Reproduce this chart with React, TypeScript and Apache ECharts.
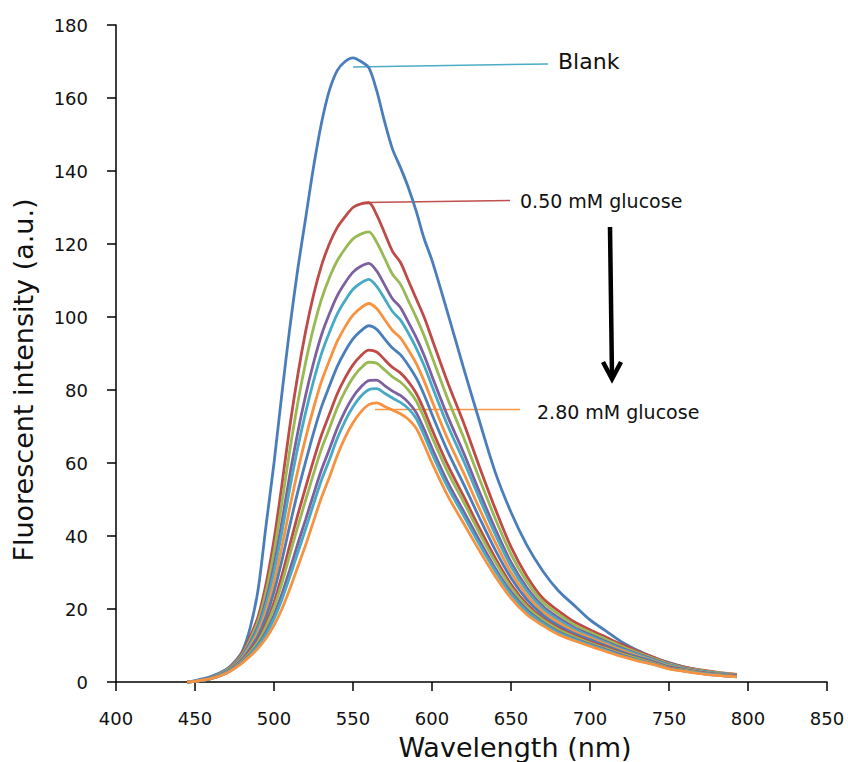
import React, { useEffect, useRef } from "react";
import * as echarts from "echarts";

// Wavelength (nm)
const wavelengths = [445,450,460,470,475,480,485,490,495,500,505,510,515,520,525,530,535,540,545,550,555,560,565,570,575,580,585,590,595,600,610,620,630,640,650,660,670,680,690,700,710,720,730,740,750,760,770,780,793];

const blank = [0,0.4,1.5,3.5,5.5,8.5,15,25.5,43,60,79,97,113,127,141,153,162,167.5,170,171,170,168.3,162,153.5,146,141,135.5,129,121.5,115.5,101,86,71.5,57.5,46.5,37.5,30.5,25,21,17,14,11,8.7,6.8,5.3,4.1,3.2,2.5,1.9];
const g1 = [0,0.2,1.1,3.3,5.2,8,12.5,18,27,39,54,70,84,96,106,114,120,124.5,127.5,130,131,131.3,128,123,118,115,110,105,100,94,82,71,59,47.5,37,29,23,19.5,16.5,14.3,12.3,10.3,8.5,6.8,5.2,4.1,3.3,2.7,2.1];
const g2 = [0,0.2,1.1,3.2,5.0,7.6,11.7,16.7,24.8,35.6,49.1,63.5,76.4,87.5,97,104.8,110.7,115.4,118.7,121.4,122.7,123.3,120.5,116.1,111.7,109,104.5,99.9,94.9,89.1,77.5,67,55.7,44.8,35,27.5,21.9,18.6,15.7,13.6,11.7,9.8,8.1,6.5,5.0,3.9,3.2,2.6,2.0];
const g3 = [0,0.2,1.0,3.0,4.8,7.2,10.9,15.4,22.5,32,43.8,56.7,68.3,78.5,87.4,95,100.8,105.8,109.4,112.3,113.9,114.7,112.6,108.8,105,102.6,98.6,94.4,89.5,83.8,72.7,62.8,52.1,42,32.8,25.9,20.8,17.6,14.9,13,11.1,9.3,7.7,6.2,4.7,3.7,3.0,2.4,1.9];
const g4 = [0,0.2,1.0,3.0,4.6,6.9,10.4,14.7,21.3,30.1,41.1,53.1,64.1,73.8,82.4,89.9,95.7,100.8,104.5,107.6,109.3,110.3,108.4,105,101.5,99.2,95.6,91.5,86.7,81.1,70.2,60.6,50.3,40.5,31.7,25,20.2,17,14.5,12.6,10.8,9,7.5,6.0,4.6,3.6,2.9,2.4,1.8];
const g5 = [0,0.2,1.0,2.9,4.5,6.6,9.8,13.7,19.5,27.3,37,47.8,57.8,66.8,75,82.3,88,93.3,97.3,100.5,102.5,103.7,102.3,99.3,96.3,94.3,91,87.3,82.5,77,66.5,57.3,47.5,38.3,30,23.8,19.3,16.3,13.9,12.1,10.4,8.7,7.2,5.8,4.4,3.5,2.8,2.3,1.8];
const g6 = [0,0.2,1.0,2.8,4.3,6.3,9.2,12.7,17.9,24.7,33.3,42.9,52,60.3,68.2,75.3,81,86.4,90.6,94,96.2,97.6,96.6,94,91.5,89.7,86.8,83.3,78.7,73.3,63.1,54.2,45,36.2,28.5,22.6,18.4,15.5,13.3,11.6,9.9,8.3,6.9,5.6,4.2,3.4,2.7,2.2,1.7];
const g7 = [0,0.2,0.95,2.6,4.1,6.0,8.6,11.6,16.1,21.8,29.2,37.5,45.7,53.3,60.7,67.6,73.3,78.9,83.3,86.9,89.4,90.9,90.4,88.3,86.2,84.7,82.3,79.1,74.5,69.2,59.4,50.9,42.2,34,26.8,21.3,17.5,14.8,12.7,11,9.5,7.9,6.5,5.3,4.0,3.2,2.6,2.0,1.6];
const g8 = [0,0.2,0.95,2.6,4.0,5.8,8.2,11.1,15.2,20.4,27.1,34.8,42.5,49.8,57,63.8,69.4,75.1,79.7,83.4,86,87.6,87.3,85.5,83.6,82.2,80,77,72.4,67.1,57.5,49.3,40.8,32.9,25.9,20.7,17.1,14.4,12.4,10.7,9.2,7.7,6.4,5.2,3.9,3.2,2.5,2.0,1.5];
const g9 = [0,0.2,0.9,2.5,3.9,5.5,7.7,10.3,13.8,18.3,24.1,30.8,37.8,44.5,51.4,58.1,63.7,69.5,74.3,78.1,80.8,82.6,82.7,81.2,79.7,78.5,76.6,73.8,69.2,64.1,54.7,46.8,38.8,31.2,24.7,19.8,16.4,13.8,11.9,10.3,8.9,7.4,6.1,5.0,3.8,3.0,2.4,1.9,1.5];
const g10 = [0,0.2,0.9,2.5,3.8,5.4,7.5,10.0,13.1,17.3,22.6,28.8,35.4,41.9,48.7,55.3,60.8,66.7,71.5,75.4,78.3,80.1,80.4,79.1,77.8,76.6,74.9,72.2,67.6,62.6,53.3,45.6,37.7,30.4,24.1,19.3,16.1,13.5,11.7,10.1,8.7,7.2,6.0,4.9,3.7,3.0,2.4,1.9,1.4];
const g11 = [0,0.2,0.9,2.4,3.7,5.2,7.1,9.3,12,15.5,20,25.5,31.5,37.5,44,50.5,56,62,67,71,74,76,76.5,75.5,74.5,73.5,72,69.5,65,60,51,43.5,36,29,23,18.5,15.5,13,11.3,9.8,8.4,7,5.8,4.8,3.6,2.9,2.3,1.8,1.4];

const seriesNames = ["Blank","0.50 mM glucose","Glucose 2","Glucose 3","Glucose 4","Glucose 5","Glucose 6","Glucose 7","Glucose 8","Glucose 9","Glucose 10","2.80 mM glucose"];
const seriesValues = [blank, g1, g2, g3, g4, g5, g6, g7, g8, g9, g10, g11];

const xTicks = { min: 400, max: 850, interval: 50 };
const yTicks = { min: 0, max: 180, interval: 20 };

const palette = ["#4A7EBB","#BE4B48","#98B954","#7D60A0","#46AAC5","#F69240","#4A7EBB","#BE4B48","#98B954","#7D60A0","#46AAC5","#F69240"];

const FONT = "DejaVu Sans";

export default function App() {
  const ref = useRef<HTMLDivElement>(null);
  useEffect(() => {
    if (!ref.current) return;
    const chart = echarts.init(ref.current, null, { renderer: "svg" });
    const series = seriesValues.map((vals, i) => ({
      name: seriesNames[i],
      type: "line",
      data: wavelengths.map((w, j) => [w, vals[j]]),
      showSymbol: false,
      smooth: 0.3,
      lineStyle: { color: palette[i], width: 2.8 },
      itemStyle: { color: palette[i] },
      silent: true,
    }));
    chart.setOption({
      animation: false,
      backgroundColor: "#ffffff",
      grid: { left: 116, right: 21, top: 25, bottom: 80 },
      xAxis: {
        type: "value",
        min: xTicks.min,
        max: xTicks.max,
        interval: xTicks.interval,
        splitLine: { show: false },
        axisLine: { lineStyle: { color: "#000", width: 1.5 } },
        axisTick: { show: true, length: 9, lineStyle: { color: "#000", width: 1.5 } },
        axisLabel: { color: "#111", fontSize: 18, fontFamily: FONT, margin: 27 },
      },
      yAxis: {
        type: "value",
        min: yTicks.min,
        max: yTicks.max,
        interval: yTicks.interval,
        splitLine: { show: false },
        axisLine: { show: true, lineStyle: { color: "#000", width: 1.5 } },
        axisTick: { show: true, length: 9, lineStyle: { color: "#000", width: 1.5 } },
        axisLabel: { color: "#111", fontSize: 18, fontFamily: FONT, margin: 28 },
      },
      series,
      graphic: [
        { type: "text", x: 23, y: 380, rotation: Math.PI / 2, style: { text: "Fluorescent intensity (a.u.)", fill: "#111", font: `27px "${FONT}"`, align: "center", verticalAlign: "middle" } },
        { type: "text", x: 515, y: 747, style: { text: "Wavelength (nm)", fill: "#111", font: `27px "${FONT}"`, align: "center", verticalAlign: "middle" } },
        { type: "line", shape: { x1: 353, y1: 67, x2: 548, y2: 64 }, style: { stroke: "#4BACC6", lineWidth: 1.5 } },
        { type: "text", x: 558, y: 61, style: { text: "Blank", fill: "#111", font: `22px "${FONT}"`, align: "left", verticalAlign: "middle" } },
        { type: "line", shape: { x1: 366, y1: 202.5, x2: 510, y2: 200.5 }, style: { stroke: "#C0504D", lineWidth: 1.5 } },
        { type: "text", x: 520, y: 201, style: { text: "0.50 mM glucose", fill: "#111", font: `19px "${FONT}"`, align: "left", verticalAlign: "middle" } },
        { type: "line", shape: { x1: 375, y1: 409.5, x2: 520, y2: 409.5 }, style: { stroke: "#F79646", lineWidth: 1.5 } },
        { type: "text", x: 537, y: 412, style: { text: "2.80 mM glucose", fill: "#111", font: `19px "${FONT}"`, align: "left", verticalAlign: "middle" } },
        { type: "line", shape: { x1: 610, y1: 227, x2: 612, y2: 376 }, style: { stroke: "#000", lineWidth: 4.5 } },
        { type: "polyline", shape: { points: [[603, 362], [612, 379], [621, 362]] }, style: { stroke: "#000", lineWidth: 4.5, fill: null, lineJoin: "miter" } },
      ],
    });
    return () => chart.dispose();
  }, []);
  return <div ref={ref} style={{ position: "absolute", left: 0, top: 0, width: 848, height: 762 }} />;
}
